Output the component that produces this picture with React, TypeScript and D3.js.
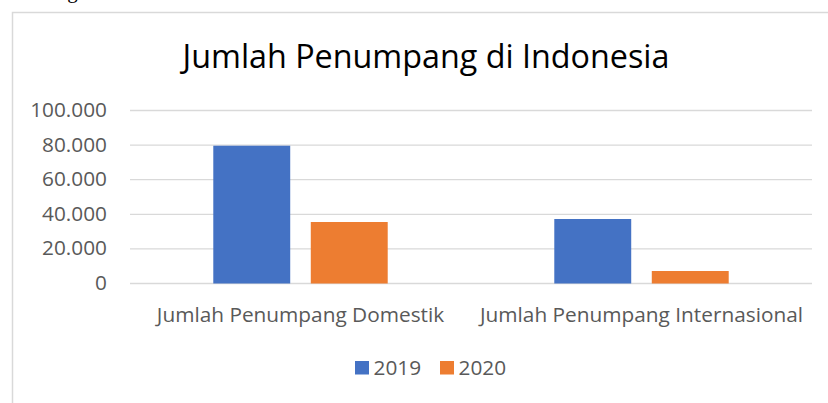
import React from "react";
import * as d3 from "d3";

const categories = ["Jumlah Penumpang Domestik", "Jumlah Penumpang Internasional"];
const seriesNames = ["2019", "2020"];
const values2019 = [79650, 37280];
const values2020 = [35550, 7225];
const yTicks = [0, 20000, 40000, 60000, 80000, 100000];
const titleText = "Jumlah Penumpang di Indonesia";
const colors = ["#4472C4", "#ED7D31"];

const W = 828;
const H = 403;
const plotLeft = 130;
const plotRight = 812;
const yZero = 283.5;
const yTop = 110.5;
const FONT = "'Open Sans', sans-serif";
const FS = 20.8;

const locale = d3.formatLocale({ decimal: ",", thousands: ".", grouping: [3], currency: ["", ""] });
const fmt = locale.format(",d");

export default function App() {
  const x0 = d3.scaleBand<string>().domain(categories).range([plotLeft, plotRight]).paddingInner(0).paddingOuter(0);
  const groupW = x0.bandwidth() * 0.5115;
  const x1 = d3.scaleBand<string>().domain(seriesNames).range([0, groupW]).paddingInner(0.211).paddingOuter(0);
  const y = d3.scaleLinear().domain([0, 100000]).range([yZero, yTop]);
  const data = [values2019, values2020];

  return (
    <svg width={W} height={H} style={{ position: "absolute", left: 0, top: 0, background: "#fff" }}>
      <rect x={0} y={0} width={W} height={H} fill="#fff" />
      <text x={30} y={-2} fontFamily="'Liberation Serif', serif" fontSize={21} fill="#000">sebagai berikut:</text>
      <rect x={12.5} y={12.5} width={W + 20} height={H + 20} fill="none" stroke="#d9d9d9" strokeWidth={1.5} />
      <text x={426} y={68} textAnchor="middle" fontFamily={FONT} fontSize={32.3} fill="#000">
        {titleText}
      </text>
      {yTicks.map((t) => (
        <g key={t}>
          <line x1={plotLeft} x2={plotRight} y1={y(t)} y2={y(t)} stroke="#d9d9d9" strokeWidth={1.3} />
          <text x={107} y={y(t) + 6.5} textAnchor="end" fontFamily={FONT} fontSize={FS} fill="#595959">
            {fmt(t)}
          </text>
        </g>
      ))}
      {categories.map((c, i) => {
        const gx = (x0(c) as number) + (x0.bandwidth() - groupW) / 2;
        return (
          <g key={c}>
            {seriesNames.map((s, j) => (
              <rect
                key={s}
                x={gx + (x1(s) as number)}
                y={y(data[j][i])}
                width={x1.bandwidth()}
                height={yZero - y(data[j][i])}
                fill={colors[j]}
              />
            ))}
            <text x={(x0(c) as number) + x0.bandwidth() / 2} y={321.5} textAnchor="middle" fontFamily={FONT} fontSize={FS} fill="#595959">
              {c}
            </text>
          </g>
        );
      })}
      {seriesNames.map((s, j) => (
        <g key={s} transform={`translate(${355 + j * 85},0)`}>
          <rect x={0} y={361} width={14} height={13.5} fill={colors[j]} />
          <text x={18.5} y={375} fontFamily={FONT} fontSize={FS} fill="#595959">{s}</text>
        </g>
      ))}
    </svg>
  );
}
